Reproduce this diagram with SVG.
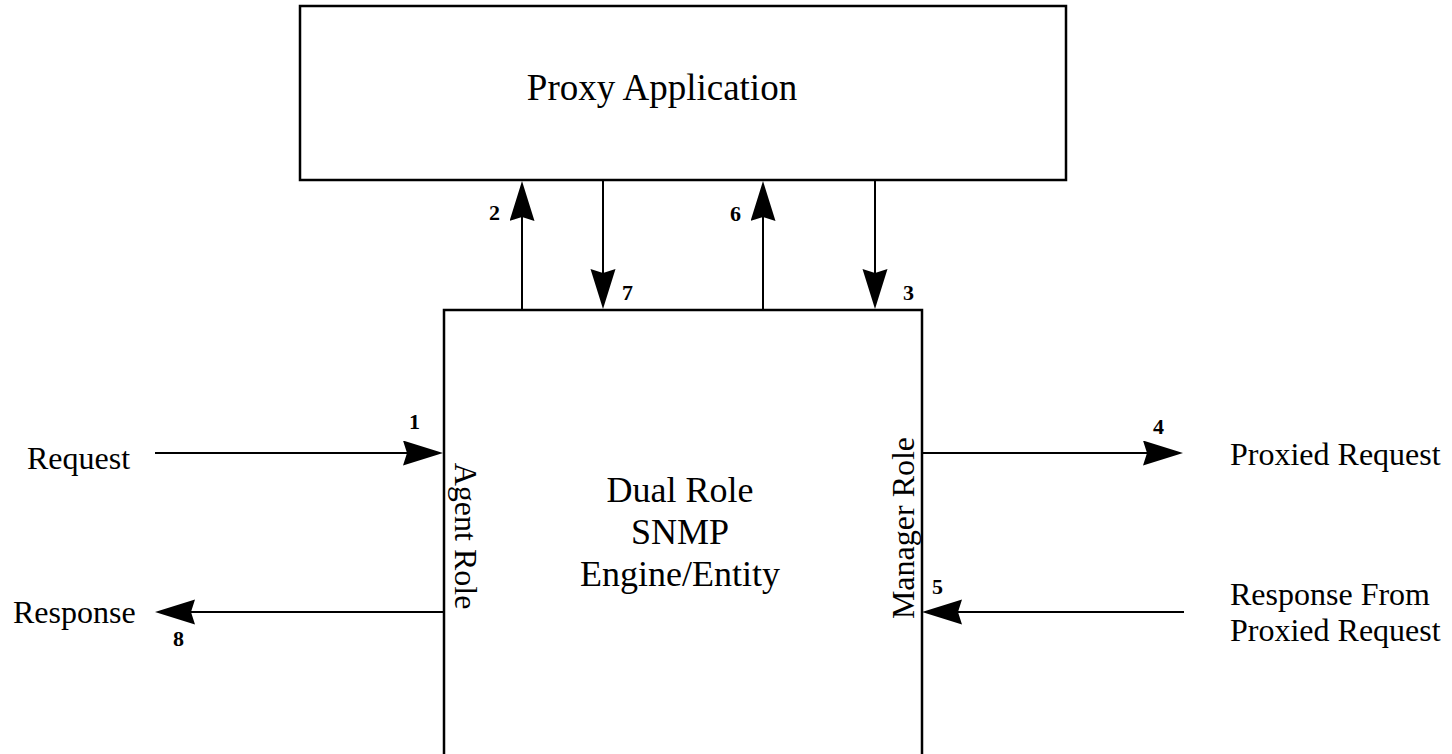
<svg xmlns="http://www.w3.org/2000/svg" width="1452" height="754" viewBox="0 0 1452 754">
<style>
.box{fill:#fff;stroke:#000;stroke-width:2.5}
.ln{fill:none;stroke:#000;stroke-width:2;marker-end:url(#ah)}
.t{font-family:"Liberation Serif","Times New Roman",serif;fill:#000}
.big{font-size:36px}
.mid{font-size:32px}
.num{font-size:22px;font-weight:bold}
</style>
<defs>
<marker id="ah" markerUnits="userSpaceOnUse" markerWidth="42" markerHeight="26" refX="4" refY="12.5" orient="auto">
<path d="M0,0 L40,12.5 L0,25 L4,12.5 Z" fill="#000"/>
</marker>
</defs>
<rect width="1452" height="754" fill="#fff"/>
<g id="proxy-app">
<rect class="box" x="300" y="6" width="766" height="174"/>
<text class="t big" x="662" y="100" text-anchor="middle" style="font-size:37px">Proxy Application</text>
</g>
<g id="engine">
<path class="box" d="M444,760 V310 H922 V760"/>
<text class="t big" x="680" y="502" text-anchor="middle">Dual Role</text>
<text class="t big" x="680" y="544" text-anchor="middle">SNMP</text>
<text class="t big" x="680" y="586" text-anchor="middle">Engine/Entity</text>
<text class="t mid" transform="translate(455,536) rotate(90)" text-anchor="middle">Agent Role</text>
<text class="t mid" transform="translate(914,528) rotate(-90)" text-anchor="middle">Manager Role</text>
</g>
<g id="request"><text class="t mid" x="27" y="469">Request</text></g>
<g id="response"><text class="t mid" x="13" y="623">Response</text></g>
<g id="proxied-request"><text class="t mid" x="1230" y="465">Proxied Request</text></g>
<g id="response-from"><text class="t mid" x="1230" y="605">Response From</text><text class="t mid" x="1230" y="641">Proxied Request</text></g>
<g id="connectors">
<path class="ln" d="M155,453 H407"/>
<path class="ln" d="M522,310 V217"/>
<path class="ln" d="M875,180 V273"/>
<path class="ln" d="M922,453 H1147"/>
<path class="ln" d="M1184,612 H958"/>
<path class="ln" d="M763,310 V217"/>
<path class="ln" d="M603,180 V273"/>
<path class="ln" d="M444,612 H191"/>
<text class="t num" x="409" y="429">1</text>
<text class="t num" x="489" y="220">2</text>
<text class="t num" x="903" y="300">3</text>
<text class="t num" x="1153" y="434">4</text>
<text class="t num" x="932" y="594">5</text>
<text class="t num" x="730" y="221">6</text>
<text class="t num" x="622" y="300">7</text>
<text class="t num" x="173" y="646">8</text>
</g>
</svg>
